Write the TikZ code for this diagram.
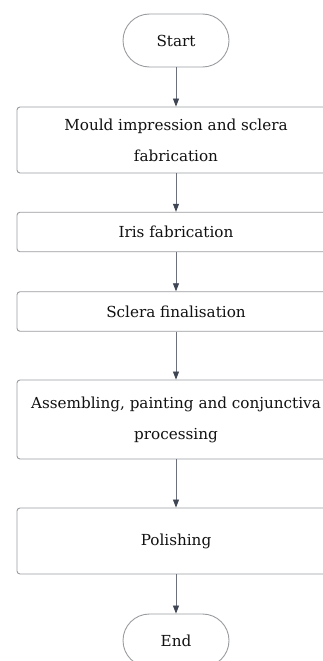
\documentclass[tikz,border=0pt]{standalone}
\usepackage{fontspec}
\setmainfont{DejaVu Serif}
\usetikzlibrary{arrows.meta}
\definecolor{boxline}{HTML}{9A9CA0}
\definecolor{arrline}{HTML}{6B707A}
\definecolor{arrtip}{HTML}{3E4553}
\definecolor{txt}{HTML}{111111}
\tikzset{
  procbox/.style={draw=boxline, line width=0.9pt, rounded corners=3pt, minimum width=318pt, inner sep=0pt, align=center, text=txt, font=\fontsize{15.2}{31}\selectfont},
  termbox/.style={draw=boxline, line width=0.9pt, rounded corners=26.5pt, minimum width=106pt, minimum height=53pt, inner sep=0pt, text=txt, font=\fontsize{15.2}{31}\selectfont},
  flow/.style={draw=arrline, line width=0.8pt, -{Triangle[length=8pt,width=6pt,color=arrtip]}}
}
\begin{document}
\begin{tikzpicture}[x=1pt,y=-1pt]
\useasboundingbox (0,0) rectangle (323,661);
\fill[white] (0,0) rectangle (323,661);
\node[termbox] (start) at (176,40.5) {Start};
\node[procbox, minimum height=66pt] (b1) at (176,140) {Mould impression and sclera\\fabrication};
\node[procbox, minimum height=39.5pt] (b2) at (176,232) {Iris fabrication};
\node[procbox, minimum height=39.5pt] (b3) at (176,311.5) {Sclera finalisation};
\node[procbox, minimum height=79pt] (b4) at (176,419.5) {Assembling, painting and conjunctiva\\processing};
\node[procbox, minimum height=66pt] (b5) at (176,541) {Polishing};
\node[termbox] (end) at (176,640.5) {End};
\draw[flow] (start) -- (b1);
\draw[flow] (b1) -- (b2);
\draw[flow] (b2) -- (b3);
\draw[flow] (b3) -- (b4);
\draw[flow] (b4) -- (b5);
\draw[flow] (b5) -- (end);
\end{tikzpicture}
\end{document}
